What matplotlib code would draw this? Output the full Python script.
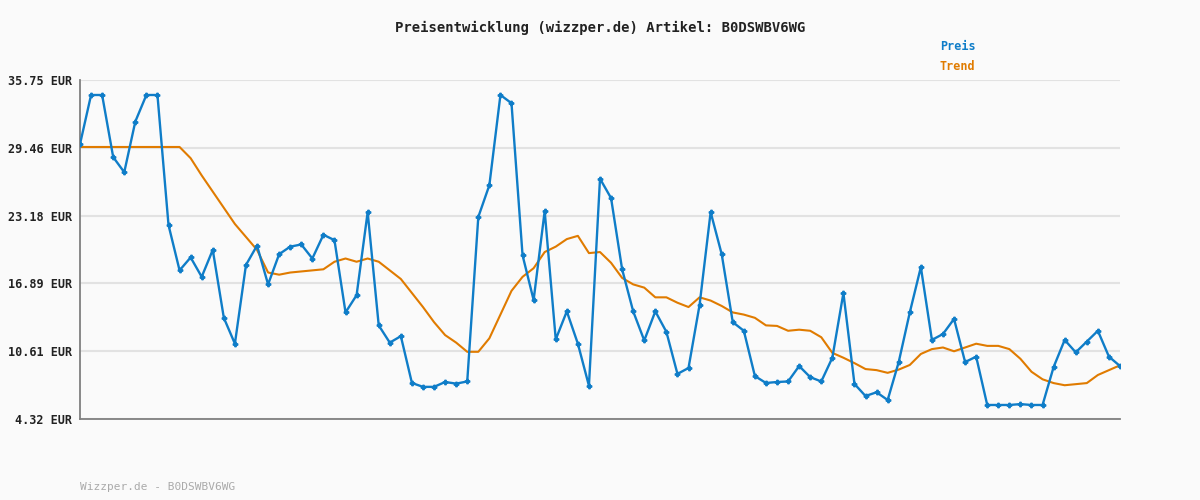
import matplotlib
matplotlib.use("Agg")
import matplotlib.pyplot as plt

preis = [29.8, 34.36, 34.36, 28.6, 27.2, 31.9, 34.36, 34.36, 22.3, 18.1,
         19.3, 17.5, 20.0, 13.7, 11.3, 18.6, 20.4, 16.8, 19.6, 20.3,
         20.5, 19.2, 21.4, 20.9, 14.2, 15.8, 23.5, 13.0, 11.4, 12.0,
         7.66, 7.3, 7.3, 7.75, 7.6, 7.8, 23.05, 26.0, 34.36, 33.6,
         19.5, 15.35, 23.6, 11.7, 14.3, 11.3, 7.4, 26.6, 24.8, 18.2,
         14.3, 11.6, 14.3, 12.4, 8.5, 9.05, 14.9, 23.5, 19.6, 13.3,
         12.5, 8.3, 7.66, 7.75, 7.8, 9.23, 8.2, 7.8, 10.0, 16.0,
         7.57, 6.45, 6.8, 6.08, 9.6, 14.2, 18.4, 11.65, 12.2, 13.6,
         9.6, 10.1, 5.62, 5.62, 5.62, 5.7, 5.62, 5.62, 9.14, 11.65,
         10.5, 11.5, 12.5, 10.1, 9.23]
trend = [29.54, 29.54, 29.54, 29.54, 29.54, 29.54, 29.54, 29.54, 29.54, 29.54,
         28.5, 26.9, 25.4, 23.9, 22.4, 21.2, 20.0, 17.9, 17.7, 17.9,
         18.0, 18.1, 18.2, 18.9, 19.2, 18.9, 19.2, 18.9, 18.1, 17.3,
         16.0, 14.7, 13.3, 12.1, 11.4, 10.55, 10.55, 11.8, 14.0, 16.2,
         17.5, 18.3, 19.8, 20.3, 21.0, 21.3, 19.7, 19.8, 18.8, 17.4,
         16.8, 16.5, 15.6, 15.6, 15.1, 14.7, 15.6, 15.3, 14.8, 14.2,
         14.0, 13.7, 13.0, 12.95, 12.5, 12.6, 12.5, 11.9, 10.45, 10.0,
         9.5, 8.95, 8.85, 8.6, 8.9, 9.33, 10.35, 10.8, 10.95, 10.6,
         10.95, 11.3, 11.1, 11.1, 10.8, 9.9, 8.7, 8.0, 7.65, 7.45,
         7.55, 7.65, 8.4, 8.85, 9.3]
yticks = [4.32, 10.61, 16.89, 23.18, 29.46, 35.75]
title = "Preisentwicklung (wizzper.de) Artikel: B0DSWBV6WG"

blue = "#0f7dc8"
orange = "#e07b00"
fig = plt.figure(figsize=(12, 5), dpi=100, facecolor="#fafafa")
ax = fig.add_axes([80/1200, 1-419/500, 1040/1200, 339/500])
ax.set_facecolor("#fafafa")
x = list(range(len(preis)))
ax.plot(x, trend, color=orange, lw=1.5, zorder=2)
ax.plot(x, preis, color=blue, lw=1.7, marker="P", ms=3.2, zorder=3)
ax.set_xlim(0, len(preis) - 1)
ax.set_ylim(yticks[0], yticks[-1])
ax.set_yticks(yticks)
ax.set_yticklabels([f"{v:.2f} EUR" for v in yticks], family="DejaVu Sans Mono", fontsize=8.5, color="#222222", fontweight="bold")
ax.set_xticks([])
ax.tick_params(axis="y", length=0, pad=6)
ax.grid(axis="y", color="#e2e2e2", lw=1.5)
ax.set_axisbelow(True)
for s in ["top", "right"]:
    ax.spines[s].set_visible(False)
for s in ["left", "bottom"]:
    ax.spines[s].set_color("#808080")
    ax.spines[s].set_linewidth(1.3)
fig.text(0.5, 1-28/500, title, ha="center", va="center", family="DejaVu Sans Mono", fontsize=10, color="#222222", fontweight="bold")
fig.text(940/1200, 1-47/500, "Preis", color=blue, family="DejaVu Sans Mono", fontsize=8.5, fontweight="bold", va="center")
fig.text(940/1200, 1-67/500, "Trend", color=orange, family="DejaVu Sans Mono", fontsize=8.5, fontweight="bold", va="center")
fig.text(80/1200, 1-487/500, "Wizzper.de - B0DSWBV6WG", color="#aaaaaa", family="DejaVu Sans Mono", fontsize=8, va="center")
fig.savefig("out.png", dpi=100, facecolor=fig.get_facecolor())
